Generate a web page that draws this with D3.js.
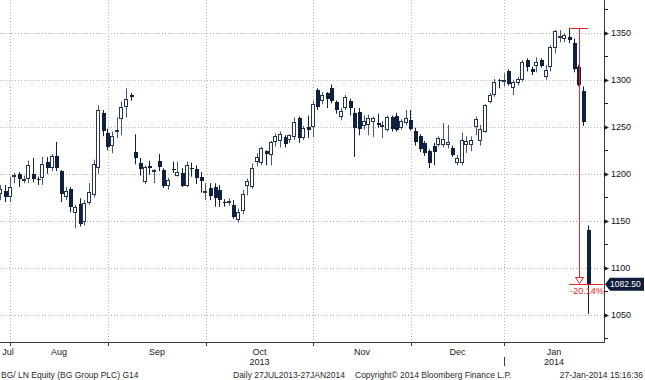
<!DOCTYPE html>
<html><head><meta charset="utf-8">
<script src="https://cdn.jsdelivr.net/npm/d3@7"></script>
<style>
body{margin:0;background:#fff;}
svg{display:block;font-family:"Liberation Sans",Arial,sans-serif;}
</style>
</head><body>
<svg id="c" width="645" height="380"></svg>
<script>
// ---- data ----
const firstDay = "2013-07-29";
const lastDay = "2014-01-27";
const holidays = ["2013-08-26", "2013-12-25", "2013-12-26", "2014-01-01"];

const openV = [1179,1182,1175,1197,1200,1194,1195,1200,1194,1196,1213,1206,1219,1203,1175,1184,1158,1168,1149,1169,1177,1206,1265,1243,
  1230,1245,1258,1271,1284,1223,1211,1191,1208,1202,1214,1204,1187,1205,1198,1201,1187,1206,1205,1197,1180,
  1185,1186,1183,1170,1169,1167,1151,1160,1187,1186,1213,1211,1224,1220,1234,1235,1239,1236,1239,1259,1238,1250,1250,
  1289,1277,1285.5,1291,1276,1261,1270,1278,1265,1266,1251,1252,1255,1254,1250,1247,1260,1262,1249,1254,1257,
  1246,1240,1233,1224,1230,1231,1231,1231,1227,1212,1211,1231,1231,1250,1235,1245,1276,1284,1300,1298,
  1309,1291,1297,1300,1321,1312,1315,1321,1303,1314,1334,1346,1344,1346,1339,1314,1288,1140];
const highV = [1188,1188,1197,1201,1202,1198,1214,1217,1197,1218,1218,1221,1234,1204,1186,1186,1167,1174,1172,1190,1215,1273,1268,1248,
  1245,1260,1277,1291,1286,1242,1217,1209,1214,1205,1221,1206,1196,1213,1213,1206,1213,1212,1209,1202,1190,
  1190,1190,1188,1173,1174,1172,1163,1183,1195,1211,1222,1229,1225,1235,1243,1245,1241,1242,1260,1261,1251,1262,1278,
  1291,1287,1287,1295,1278,1270,1284,1280,1270,1270,1262,1263,1261,1264,1256,1262,1262,1265,1258,1268,1268,
  1249,1242,1235,1226,1233,1240,1254,1252,1230,1220,1244,1240,1240,1261,1252,1274,1286,1301,1301,1307,
  1311,1300,1303,1321,1323,1314,1324,1323,1316,1337,1353,1353,1350,1355.5,1344,1316,1293,1145];
const lowV = [1172,1170,1170,1190,1186,1190,1190,1191,1188,1188,1200,1203,1203,1170,1172,1159,1142,1144,1145,1167,1175,1200,1240,1225,
  1222,1238,1241,1260,1278,1210,1198,1189,1199,1190,1203,1185,1183,1201,1197,1186,1186,1197,1189,1180,1172,
  1172,1165,1165,1165,1166,1152,1148,1157,1177,1184,1208,1209,1209,1209,1229,1228,1228,1233,1236,1233,1236,1238,1239,
  1268,1274,1270,1275,1264,1257,1268,1262,1218,1241,1247,1241,1239,1249,1238,1245,1245,1245,1247,1252,1246,
  1230,1223,1219,1206,1209,1229,1228,1227,1218,1209,1209,1222,1224,1241,1230,1244,1275,1282,1291,1293,
  1294,1284,1294,1298,1309,1305,1308,1313,1300,1309,1328,1340,1340,1339,1308,1293,1251,1051];
const closeV = [1184,1175,1186,1199,1195,1195,1209,1195,1193,1210,1206,1219,1206,1178,1182,1165,1165,1147,1169,1181,1210,1268,1246,1229,
  1240,1247,1271,1280,1282,1217,1205,1207,1206,1204,1207,1187,1193,1204,1201.5,1187,1209,1205,1196,1192,1182,
  1176,1174,1172,1169,1171,1154,1159,1178,1192,1206,1218,1227,1221,1234,1240,1242,1232,1241,1255,1238,1249,1246.5,1274,
  1271,1284,1280,1278,1268,1267,1282,1270,1249,1248,1256,1259,1259,1252,1252,1260,1248,1247,1256,1259,1248,
  1234,1226,1222,1211,1223,1238,1237,1234,1220,1217,1236,1235,1236,1258,1248,1273,1284,1298,1299,1300,
  1296,1298,1301,1319,1314,1308,1319,1315,1311,1335,1352,1347,1348,1342,1312,1295,1255,1082.5];

const yTickValues = [1050, 1100, 1150, 1200, 1250, 1300, 1350];
const yMinorValues = [1025, 1075, 1125, 1175, 1225, 1275, 1325, 1375];
const monthNames = ["Jul","Aug","Sep","Oct","Nov","Dec","Jan"];
const yearLabels = [["Oct","2013"], ["Jan","2014"]];
const lastPriceLabel = "1082.50";
const footerLeft = "BG/ LN Equity (BG Group PLC) G14";
const footerMid1 = "Daily 27JUL2013-27JAN2014";
const footerMid2 = "Copyright\u00A9 2014 Bloomberg Finance L.P.";
const footerRight = "27-Jan-2014 15:16:36";

// trading calendar (weekdays minus exchange holidays)
const dates = [];
{
  const fmt = d3.utcFormat("%Y-%m-%d");
  let d = new Date(firstDay + "T00:00:00Z");
  const end = new Date(lastDay + "T00:00:00Z");
  while (d <= end) {
    const wd = d.getUTCDay();
    const s = fmt(d);
    if (wd !== 0 && wd !== 6 && !holidays.includes(s)) dates.push(s);
    d = new Date(d.getTime() + 86400000);
  }
}
const data = dates.map((d, i) => ({date: d, o: openV[i], h: highV[i], l: lowV[i], c: closeV[i]}));

// ---- layout ----
const svg = d3.select("#c");
const plotRight = 604, plotBottom = 342;
const x = d3.scalePoint().domain(dates).range([0.3, 587.5]);
const step = x.step();
const y = d3.scaleLinear().domain([1021, 1385]).range([plotBottom, 0]);

const grid = "#b9b9b9";
// horizontal grid
svg.append("g").selectAll("line").data(yTickValues).join("line")
  .attr("x1", 0).attr("x2", plotRight)
  .attr("y1", d => Math.round(y(d)) + 0.5).attr("y2", d => Math.round(y(d)) + 0.5)
  .attr("stroke", grid).attr("stroke-dasharray", "1,2");

// month boundaries
const monthStarts = [];
data.forEach((d, i) => {
  if (i > 0 && d.date.slice(5, 7) !== data[i - 1].date.slice(5, 7)) monthStarts.push(d.date);
});
const bounds = monthStarts.map(d => Math.round(x(d) - 0.9 * step));
svg.append("g").selectAll("line").data(bounds).join("line")
  .attr("x1", d => d + 0.5).attr("x2", d => d + 0.5)
  .attr("y1", 0).attr("y2", plotBottom)
  .attr("stroke", grid).attr("stroke-dasharray", "1,2");

// candles
const dark = "#0f213f", wick = "#4a596f", hollowStroke = "#24354f";
const cg = svg.append("g");
data.forEach(d => {
  const cx = Math.round(x(d.date));
  cg.append("line")
    .attr("x1", cx + 0.5).attr("x2", cx + 0.5)
    .attr("y1", y(d.h)).attr("y2", y(d.l))
    .attr("stroke", d.c < d.o ? dark : wick).attr("stroke-width", 1);
  const top = Math.round(y(Math.max(d.o, d.c)));
  const bot = Math.round(y(Math.min(d.o, d.c)));
  const h = Math.max(bot - top, 1);
  if (d.c < d.o) {
    cg.append("rect").attr("x", cx - 1.5).attr("y", top).attr("width", 4).attr("height", h)
      .attr("fill", dark).attr("shape-rendering", "crispEdges");
  } else {
    cg.append("rect").attr("x", cx - 1.5).attr("y", top + 0.5).attr("width", 3).attr("height", Math.max(h - 1, 1))
      .attr("fill", "#fff").attr("stroke", hollowStroke).attr("stroke-width", 1);
  }
});

// right axis
const ax = svg.append("g");
ax.append("line").attr("x1", plotRight + 0.5).attr("x2", plotRight + 0.5).attr("y1", 0).attr("y2", plotBottom + 1)
  .attr("stroke", "#3a3a3a");
ax.selectAll("path.maj").data(yTickValues).join("path").attr("class", "maj")
  .attr("d", d => { const yy = Math.round(y(d)) + 0.5; return `M${plotRight},${yy - 2.5}L${plotRight + 5},${yy}L${plotRight},${yy + 2.5}Z`; })
  .attr("fill", "#222");
ax.selectAll("line.min").data(yMinorValues.filter(v => y(v) >= 0 && y(v) <= plotBottom)).join("line").attr("class", "min")
  .attr("x1", plotRight).attr("x2", plotRight + 4)
  .attr("y1", d => Math.round(y(d)) + 0.5).attr("y2", d => Math.round(y(d)) + 0.5)
  .attr("stroke", "#222");
ax.selectAll("text").data(yTickValues).join("text")
  .attr("x", 611).attr("y", d => y(d) + 3.3)
  .attr("font-size", 9).attr("fill", "#111").text(d => d);

// bottom axis
const bx = svg.append("g");
bx.append("line").attr("x1", 0).attr("x2", plotRight + 1).attr("y1", plotBottom + 0.5).attr("y2", plotBottom + 0.5)
  .attr("stroke", "#3a3a3a");
bx.selectAll("line.t").data(bounds).join("line").attr("class", "t")
  .attr("x1", d => d + 0.5).attr("x2", d => d + 0.5).attr("y1", plotBottom).attr("y2", plotBottom + 4)
  .attr("stroke", "#3a3a3a");
const edges = [0, ...bounds, plotRight];
const labelX = monthNames.map((m, i) => Math.max((edges[i] + edges[i + 1]) / 2, 8));
bx.selectAll("text.m").data(monthNames).join("text").attr("class", "m")
  .attr("x", (d, i) => labelX[i]).attr("y", 355)
  .attr("text-anchor", "middle").attr("font-size", 9).attr("fill", "#1a1a1a").text(d => d);
bx.selectAll("text.yr").data(yearLabels).join("text").attr("class", "yr")
  .attr("x", d => labelX[monthNames.indexOf(d[0])]).attr("y", 365)
  .attr("text-anchor", "middle").attr("font-size", 9).attr("fill", "#1a1a1a").text(d => d[1]);
// year divider
const janB = bounds[bounds.length - 1];
bx.append("line").attr("x1", janB + 0.5).attr("x2", janB + 0.5).attr("y1", 357).attr("y2", 366).attr("stroke", "#3a3a3a");

// last price tag
const last = data[data.length - 1];
const ly = y(last.c);
svg.append("path")
  .attr("d", `M${plotRight + 1},${ly}L${plotRight + 6},${ly - 6.5}L644,${ly - 6.5}L644,${ly + 6.5}L${plotRight + 6},${ly + 6.5}Z`)
  .attr("fill", "#0c1c3a");
svg.append("text").attr("x", 610).attr("y", ly + 3.2).attr("font-size", 8.5).attr("fill", "#fff").text(lastPriceLabel);

// drawdown annotation
const red = "#e3262b";
let pk = 0;
data.forEach((d, i) => { if (d.h > data[pk].h) pk = i; });
const peak = data[pk];
const px0 = Math.round(x(peak.date)), px1 = Math.round(x(last.date));
const vx = Math.round((px0 + px1) / 2) + 0.5;
const py = Math.round(y(peak.h)) + 0.5, qy = Math.round(ly) + 0.5;
const an = svg.append("g");
an.append("line").attr("x1", px0).attr("x2", px1).attr("y1", py).attr("y2", py).attr("stroke", red);
an.append("line").attr("x1", vx).attr("x2", vx).attr("y1", py).attr("y2", qy - 7).attr("stroke", red);
an.append("path").attr("d", `M${vx - 4},${qy - 7}L${vx + 4},${qy - 7}L${vx},${qy - 1}Z`)
  .attr("fill", "#fff").attr("stroke", red);
an.append("line").attr("x1", px0).attr("x2", plotRight - 1).attr("y1", qy).attr("y2", qy).attr("stroke", red);
const pct = ((last.c - peak.h) / peak.h * 100).toFixed(2) + "%";
an.append("text").attr("x", 587).attr("y", qy + 9).attr("text-anchor", "middle")
  .attr("font-size", 9).attr("fill", red).text(pct);

// footer
const ft = svg.append("g").attr("font-size", 8.5).attr("fill", "#2a2a2a");
ft.append("text").attr("x", 1).attr("y", 378).text(footerLeft);
ft.append("text").attr("x", 233).attr("y", 378).text(footerMid1);
ft.append("text").attr("x", 355).attr("y", 378).text(footerMid2);
ft.append("text").attr("x", 643).attr("y", 378).attr("text-anchor", "end").text(footerRight);
</script>
</body></html>
